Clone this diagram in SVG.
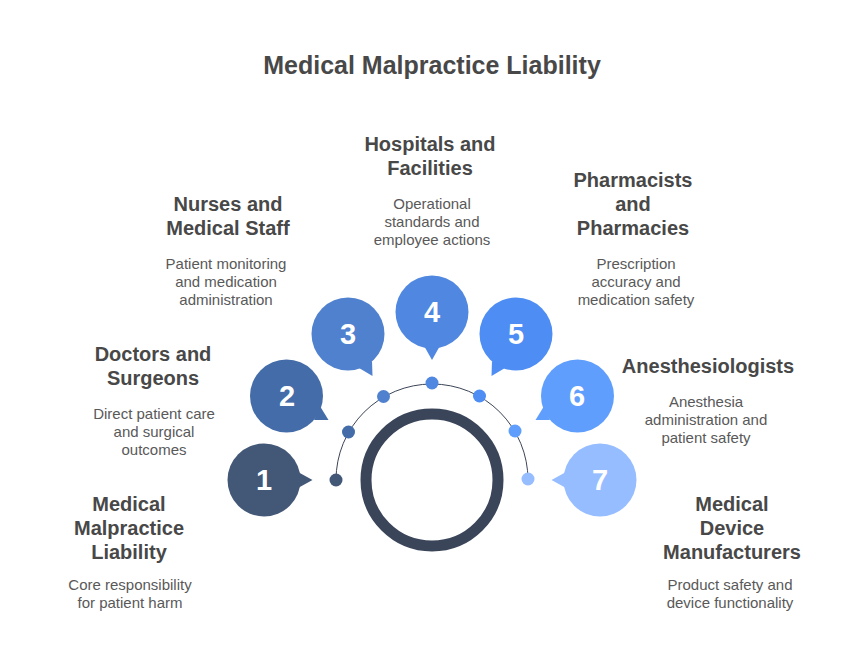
<svg xmlns="http://www.w3.org/2000/svg" width="864" height="660" viewBox="0 0 864 660">
<style>
text{font-family:"Liberation Sans",Arial,sans-serif;text-anchor:middle}
.title{font-size:25px;font-weight:700;fill:#484848}
.h{font-size:20px;font-weight:700;fill:#484848}
.d{font-size:15px;fill:#595959}
.n{font-size:29px;font-weight:700;fill:#fff}
</style>
<rect width="864" height="660" fill="#fff"/>
<text class="title" x="432" y="74">Medical Malpractice Liability</text>
<g id="connectors">
<path d="M336 480A96 96 0 0 1 528 480" fill="none" stroke="#3c4557" stroke-width="1"/>
</g>
<g id="ring"><circle cx="432" cy="480" r="66" fill="none" stroke="#3a4559" stroke-width="11"/></g>
<g id="node1" fill="#435777">
<circle cx="264" cy="480" r="36.500"/><polygon points="298,472 312.500,480 298,488"/>
<circle cx="336" cy="480" r="6.500"/>
<text class="n" x="264" y="490">1</text>
<text class="h" x="129" y="511">Medical</text><text class="h" x="129" y="535">Malpractice</text><text class="h" x="129" y="559">Liability</text>
<text class="d" x="130" y="590">Core responsibility</text><text class="d" x="130" y="608">for patient harm</text>
</g>
<g id="node2" fill="#436ca8">
<circle cx="286.500" cy="396" r="36.500"/><polygon points="320.500,407 328.500,420 314,420"/>
<circle cx="348.500" cy="432" r="6.500"/>
<text class="n" x="287" y="406">2</text>
<text class="h" x="153" y="361">Doctors and</text><text class="h" x="153" y="385">Surgeons</text>
<text class="d" x="154" y="419">Direct patient care</text><text class="d" x="154" y="437">and surgical</text><text class="d" x="154" y="455">outcomes</text>
</g>
<g id="node3" fill="#5081cf">
<circle cx="348" cy="334" r="36.500"/><polygon points="372,361 372.500,376 359,368"/>
<circle cx="383.500" cy="396.500" r="6.500"/>
<text class="n" x="348" y="344">3</text>
<text class="h" x="228" y="211">Nurses and</text><text class="h" x="228" y="235">Medical Staff</text>
<text class="d" x="226" y="269">Patient monitoring</text><text class="d" x="226" y="287">and medication</text><text class="d" x="226" y="305">administration</text>
</g>
<g id="node4" fill="#4f87e1">
<circle cx="432" cy="312" r="36.500"/><polygon points="425,347.500 432,360 439,347.500"/>
<circle cx="432" cy="383" r="6.500"/>
<text class="n" x="432" y="322">4</text>
<text class="h" x="430" y="151">Hospitals and</text><text class="h" x="430" y="175">Facilities</text>
<text class="d" x="432" y="209">Operational</text><text class="d" x="432" y="227">standards and</text><text class="d" x="432" y="245">employee actions</text>
</g>
<g id="node5" fill="#4e8df3">
<circle cx="516" cy="334" r="36.500"/><polygon points="492,361 491.500,376 505,368"/>
<circle cx="479.500" cy="396" r="6.500"/>
<text class="n" x="516" y="344">5</text>
<text class="h" x="633" y="187">Pharmacists</text><text class="h" x="633" y="211">and</text><text class="h" x="633" y="235">Pharmacies</text>
<text class="d" x="636" y="269">Prescription</text><text class="d" x="636" y="287">accuracy and</text><text class="d" x="636" y="305">medication safety</text>
</g>
<g id="node6" fill="#5f9efc">
<circle cx="577.500" cy="396" r="36.500"/><polygon points="543.500,407 535.500,420 550,420"/>
<circle cx="515" cy="431" r="6.500"/>
<text class="n" x="577" y="406">6</text>
<text class="h" x="708" y="373">Anesthesiologists</text>
<text class="d" x="706" y="407">Anesthesia</text><text class="d" x="706" y="425">administration and</text><text class="d" x="706" y="443">patient safety</text>
</g>
<g id="node7" fill="#96bdff">
<circle cx="600" cy="480" r="36.500"/><polygon points="566,472 551.500,480 566,488"/>
<circle cx="528" cy="479" r="6.500"/>
<text class="n" x="600" y="490">7</text>
<text class="h" x="732" y="511">Medical</text><text class="h" x="732" y="535">Device</text><text class="h" x="732" y="559">Manufacturers</text>
<text class="d" x="730" y="590">Product safety and</text><text class="d" x="730" y="608">device functionality</text>
</g>
</svg>
